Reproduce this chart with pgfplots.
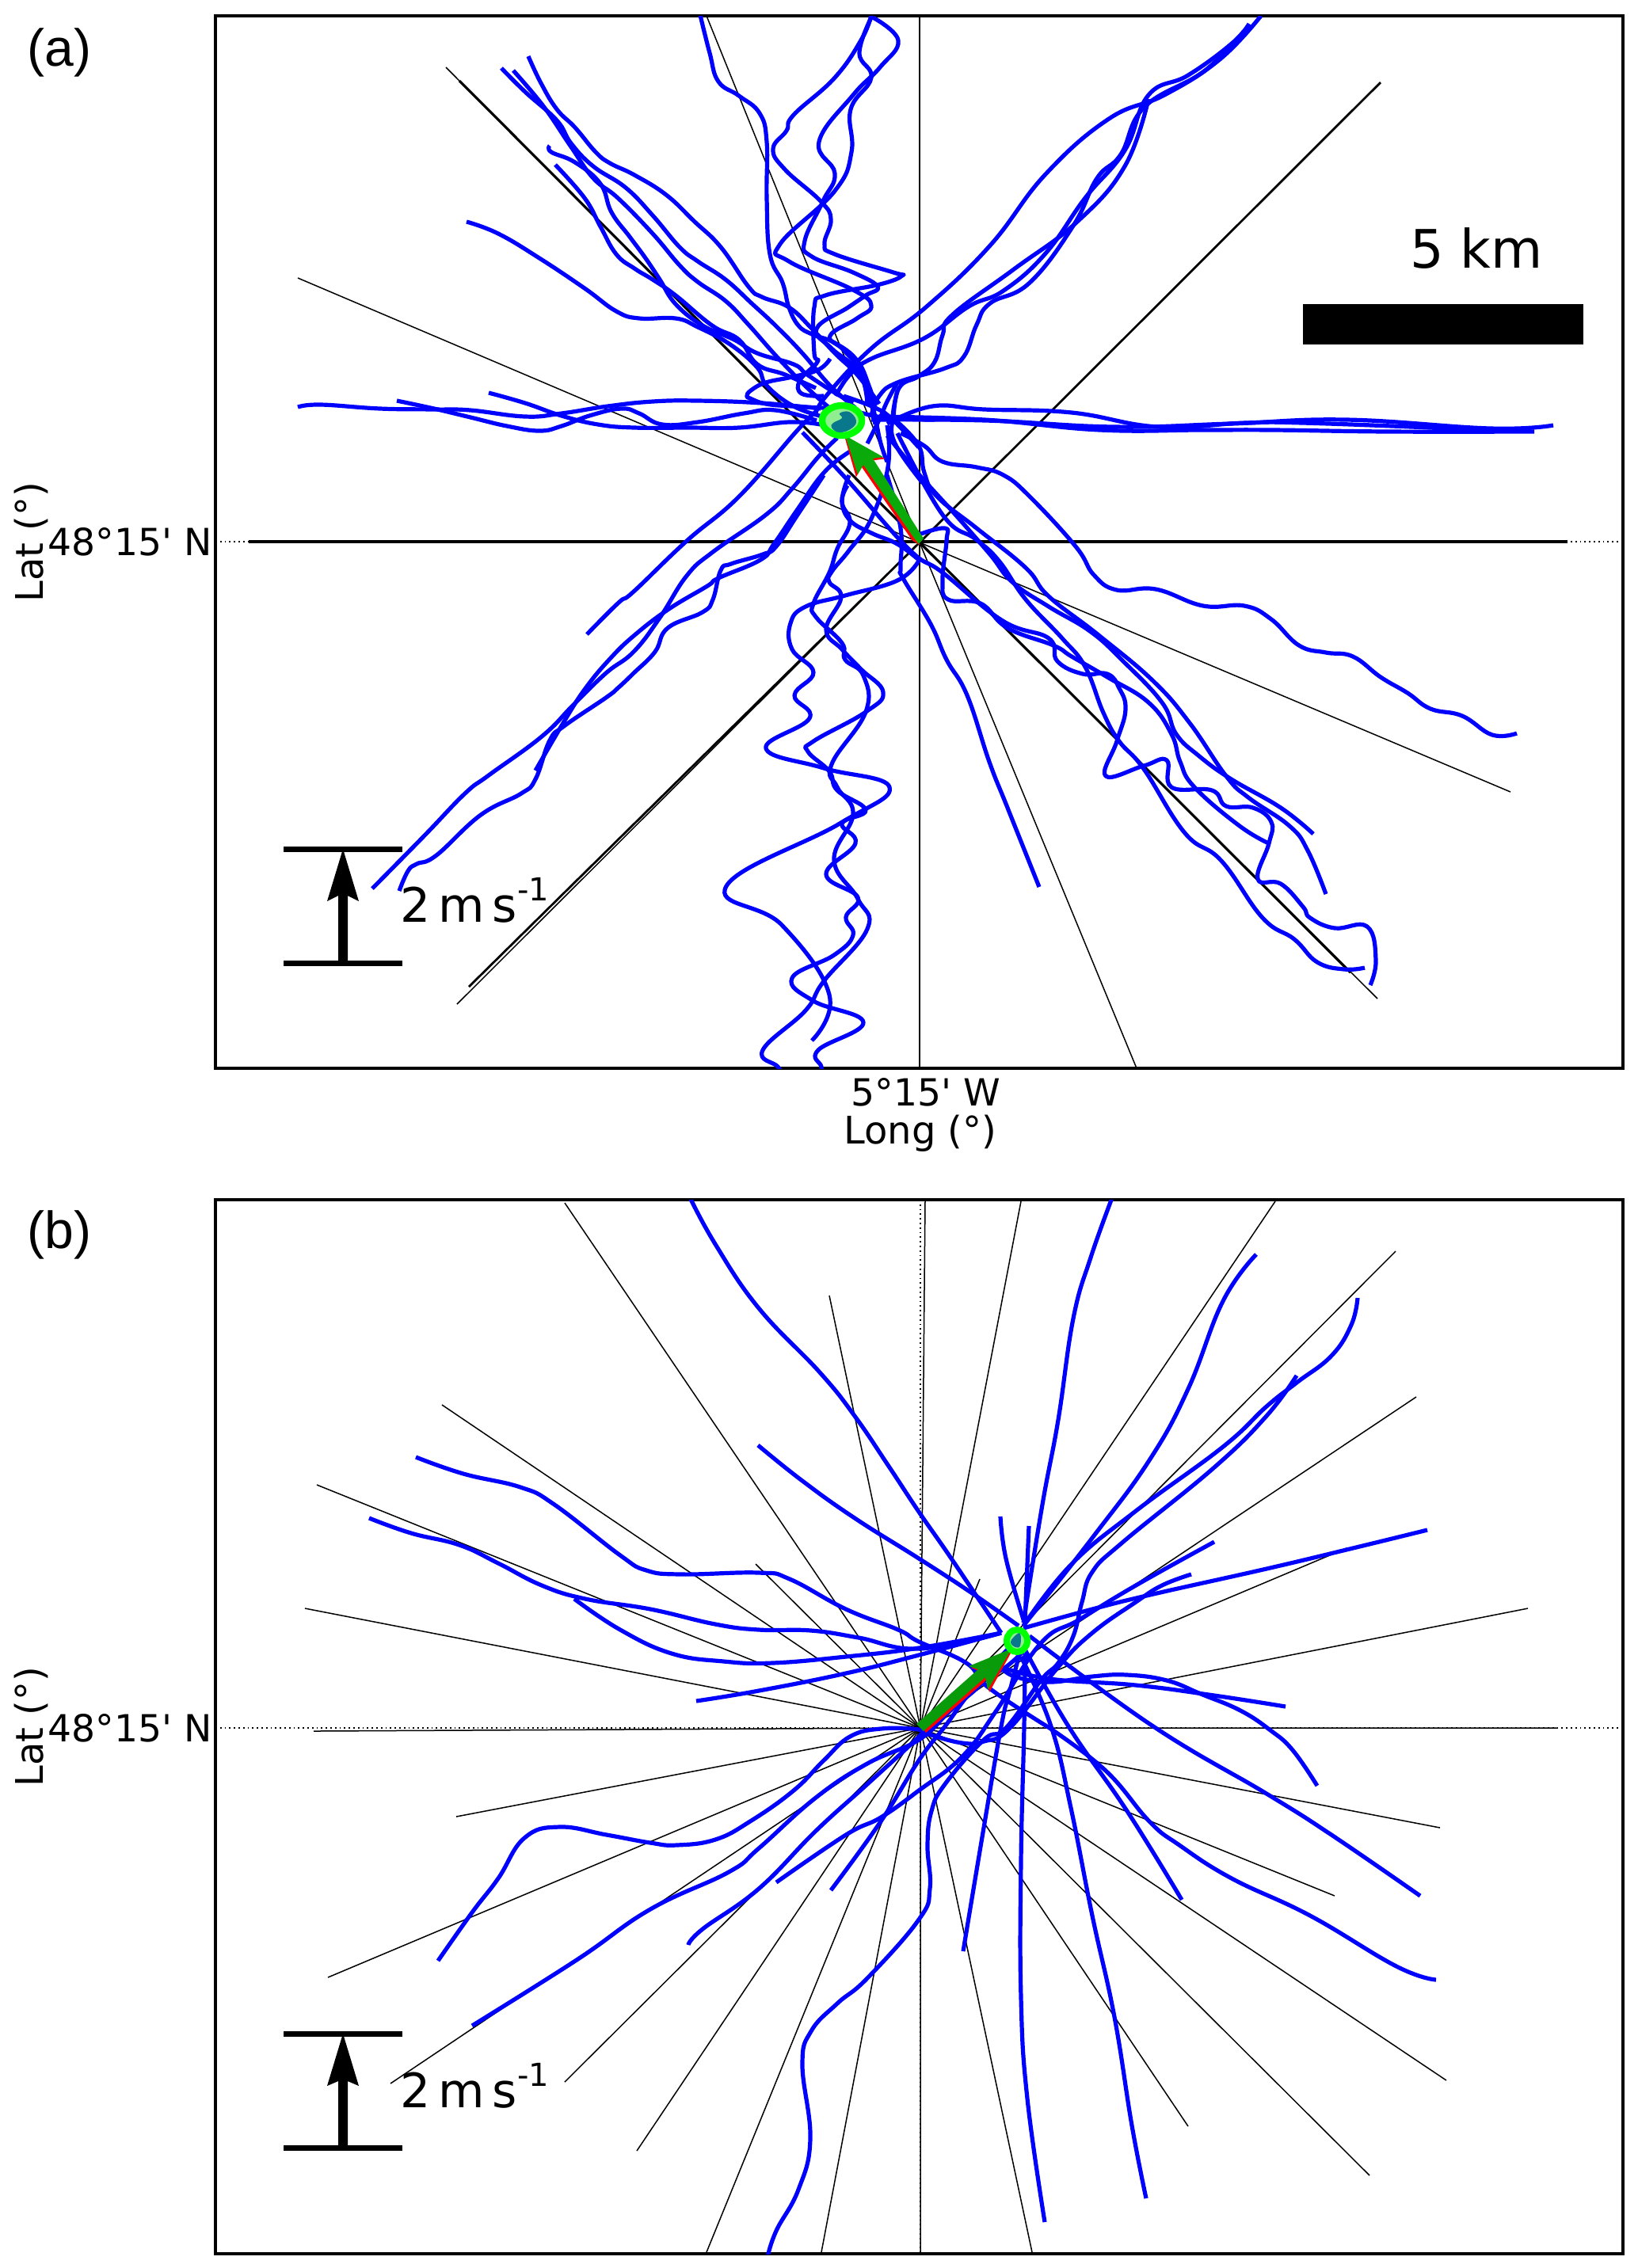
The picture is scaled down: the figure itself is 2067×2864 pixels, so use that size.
\documentclass[border=0pt]{standalone}
\usepackage{fontspec}
\usepackage{pgfplots}
\pgfplotsset{compat=1.18}
\newfontfamily\dv{DejaVu Sans}
\setmainfont{Liberation Sans}
\definecolor{ring}{RGB}{0,255,0}
\definecolor{arrowg}{RGB}{10,170,10}
\definecolor{arrowb}{RGB}{10,155,10}
\definecolor{tealc}{RGB}{10,120,140}
\definecolor{lightg}{RGB}{144,238,144}
\pgfplotsset{
  panel/.style={scale only axis,width=888.5pt,xmin=272,xmax=2049,y dir=reverse,
    axis line style={line width=1.75pt},major tick length=0pt,
    grid=major,grid style={black,line width=0.9pt,dotted},clip mode=individual,
    tick label style={font=\dv\fontsize{23.6}{25}\selectfont},
    yticklabel style={inner sep=0pt,xshift=-2pt},
    xticklabel style={inner sep=0pt,yshift=-6pt,xshift=4pt},
    every axis y label/.style={at={(axis description cs:-0.1306,0.5)},rotate=90,anchor=center,font=\dv\fontsize{24}{26}\selectfont},
    every axis x label/.style={at={(axis description cs:0.5008,-0.0617)},anchor=center,font=\dv\fontsize{24}{26}\selectfont},
    xlabel style={},ylabel={Lat (°)}},
  ray/.style={black,line width=0.75pt,no marks},
  trk/.style={blue,line width=2.6pt,no marks,smooth,tension=0.72,line join=round},
}
\begin{document}
\begin{tikzpicture}[x=0.5pt,y=-0.5pt]
\path (0,0) rectangle (2067,2864);
% ---------------- panel (a)
\begin{axis}[panel,at={(136pt,-10pt)},anchor=north west,height=664.5pt,ymin=20,ymax=1349,
  xtick={1161},xticklabels={5°15' W},ytick={684},yticklabels={48°15' N},xlabel={Long (°)}]
\addplot[ray,line width=1.6pt] coordinates {(314,684)(1979,684)};
\addplot[ray,line width=1.1pt] coordinates {(1161,20)(1161,1349)};
\addplot[ray] coordinates {(563,85)(1161,685)(1739,1261)};
\addplot[ray,line width=1.6pt] coordinates {(580,102)(1161,685)(1705,1228)};
\addplot[ray,line width=1.4pt] coordinates {(1743,104)(1161,685)(592,1246)};
\addplot[ray] coordinates {(1161,685)(577,1268)};
\addplot[ray] coordinates {(892,20)(1161,685)(1435,1349)};
\addplot[ray] coordinates {(376,351)(1161,685)(1907,1000)};
% NW
\addplot[trk] coordinates {(667,71)(683,105)(703,138)(726,161)(752,192)(770,206)(801,221)(841,246)(876,279)(910,312)(945,362)(962,375)(996,388)(1025,415)(1054,446)(1082,473)(1110,510)};
\addplot[trk] coordinates {(633,86)(663,116)(703,152)(721,181)(749,210)(790,237)(824,272)(858,312)(881,330)(916,353)(950,384)(979,411)(1013,446)(1048,487)(1080,515)};
\addplot[trk] coordinates {(648,89)(686,134)(720,184)(749,225)(780,250)(824,295)(858,335)(881,356)(916,380)(945,410)(985,455)(1030,500)(1060,525)};
\addplot[trk] coordinates {(694,184)(696,192)(726,205)(758,232)(772,268)(795,299)(815,326)(833,353)(853,384)(887,411)(927,429)(956,446)(1002,460)(1019,473)(1054,496)(1077,509)};
\addplot[trk] coordinates {(701,208)(738,250)(758,286)(778,321)(801,339)(824,353)(853,373)(899,411)(933,429)(956,460)(991,473)(1030,490)};
\addplot[trk] coordinates {(589,280)(629,295)(681,326)(738,364)(778,393)(807,402)(853,402)(881,413)(922,435)(956,464)(968,487)(1002,513)(1042,527)};
% W
\addplot[trk] coordinates {(376,514)(405,511)(480,516)(548,517)(594,518)(663,526)(709,522)(767,513)(824,507)(881,506)(962,509)(1036,516)};
\addplot[trk] coordinates {(501,506)(548,516)(594,527)(640,538)(681,544)(709,538)(744,525)(784,516)(807,522)(836,536)(881,533)(939,522)(979,518)(1031,531)};
\addplot[trk] coordinates {(617,496)(663,509)(709,525)(755,536)(801,540)(870,540)(933,540)(996,533)(1036,536)};
\addplot[trk] coordinates {(1048,453)(1033,467)(1000,476)(967,483)(948,493)(943,500)(947,503)(967,510)(1000,513)(1040,515)};
% N
\addplot[trk] coordinates {(884,19)(896,67)(907,103)(933,121)(959,143)(968,179)(968,250)(972,321)(988,357)(996,388)(1008,411)(1025,422)(1054,433)(1082,455)(1097,487)(1105,513)};
\addplot[trk] coordinates {(1100,19)(1088,49)(1054,98)(1002,145)(993,165)(976,188)(991,214)(1036,254)(1049,277)(1041,308)(1054,321)(1128,344)(1139,348)(1111,359)(1042,373)(1028,388)(1028,446)(1032,457)(1010,480)(1012,497)(1040,500)};
\addplot[trk] coordinates {(1102,22)(1134,51)(1111,85)(1077,120)(1034,179)(1054,219)(1039,254)(1016,304)(1025,324)(1077,344)(1108,362)(1093,373)(1071,388)(1031,415)(1050,440)(1085,470)(1095,510)};
\addplot[trk] coordinates {(1100,22)(1085,67)(1100,98)(1074,138)(1075,192)(1054,241)(985,308)(996,330)(1077,366)(1100,386)(1082,402)(1048,424)(1065,442)(1091,473)(1100,509)(1105,536)};
% NE
\addplot[trk] coordinates {(1592,20)(1540,75)(1470,120)(1400,150)(1320,220)(1250,310)(1170,387)(1100,440)(1043,500)(1030,523)};
\addplot[trk] coordinates {(1577,30)(1555,55)(1500,95)(1450,120)(1420,190)(1370,250)(1320,320)(1267,367)(1223,387)(1167,427)(1100,453)(1073,473)(1055,500)};
\addplot[trk] coordinates {(1570,40)(1520,90)(1445,135)(1415,195)(1385,225)(1355,285)(1300,357)(1250,383)(1233,410)(1217,450)(1193,465)(1133,483)(1110,500)(1100,525)};
\addplot[trk] coordinates {(1450,125)(1420,210)(1360,280)(1280,340)(1203,397)(1190,423)(1180,457)(1160,475)(1135,490)(1128,530)};
% centre cluster
\addplot[trk] coordinates {(1040,515)(1080,520)(1120,528)(1180,530)};
\addplot[trk] coordinates {(1133,483)(1120,507)(1110,530)(1095,560)};
\addplot[trk] coordinates {(1133,493)(1127,527)(1130,560)(1165,610)};
\addplot[trk] coordinates {(1097,490)(1105,527)(1112,560)(1120,583)};
\addplot[trk] coordinates {(1065,500)(1105,515)(1127,530)(1160,565)};
% E
\addplot[trk] coordinates {(1100,530)(1245,531)(1407,539)(1553,535)(1700,530)(1882,541)(1961,537)};
\addplot[trk] coordinates {(1100,526)(1243,530)(1389,543)(1517,543)(1608,543)(1754,545)(1937,545)};
\addplot[trk] coordinates {(1120,535)(1177,513)(1243,517)(1353,521)(1462,539)(1572,534)(1645,534)(1828,541)(1886,545)};
% SE
\addplot[trk] coordinates {(1137,547)(1167,563)(1190,583)(1233,590)(1267,600)(1300,627)(1358,690)(1381,726)(1410,745)(1459,744)(1519,765)(1571,765)(1605,782)(1640,815)(1674,824)(1708,829)(1743,855)(1777,875)(1806,895)(1846,904)(1884,928)(1915,926)};
\addplot[trk] coordinates {(1133,533)(1160,563)(1167,597)(1183,627)(1233,667)(1295,717)(1324,753)(1387,802)(1456,860)(1502,913)(1548,980)(1576,1007)(1628,1043)(1651,1074)(1674,1129)};
\addplot[trk] coordinates {(1120,550)(1167,607)(1200,643)(1249,699)(1278,735)(1324,766)(1376,797)(1416,833)(1467,887)(1485,927)(1513,954)(1553,983)(1617,1020)(1658,1053)};
\addplot[trk] coordinates {(1133,547)(1190,650)(1232,681)(1261,708)(1295,757)(1341,806)(1370,842)(1393,900)(1413,936)(1444,971)(1496,1052)(1542,1087)(1594,1159)(1634,1186)(1663,1215)(1697,1224)(1723,1222)};
\addplot[trk] coordinates {(1013,546)(1067,603)(1147,693)(1190,723)(1266,784)(1324,806)(1335,835)(1367,851)(1398,851)(1413,869)(1421,896)(1410,936)(1396,980)(1444,967)(1473,960)(1479,994)(1530,998)(1548,1018)(1582,1020)(1605,1038)(1602,1065)(1588,1110)(1617,1116)(1645,1145)(1654,1159)(1685,1172)(1726,1170)(1737,1212)(1730,1244)};
\addplot[trk] coordinates {(1160,675)(1193,667)(1195,683)(1190,733)(1197,757)(1238,762)(1272,793)(1330,815)(1353,829)(1398,855)(1450,887)(1479,927)(1490,962)(1508,994)(1565,1043)(1604,1066)};
\addplot[trk] coordinates {(1120,600)(1137,667)(1137,717)(1140,730)(1175,788)(1195,833)(1221,878)(1249,962)(1272,1020)(1312,1120)};
\addplot[trk] coordinates {(1070,613)(1063,633)(1073,657)(1100,673)(1133,687)(1160,707)};
% S
\addplot[trk] coordinates {(1120,537)(1121,590)(1100,655)(1072,695)(1050,722)(1047,735)(1062,754)(1043,795)(1063,820)(1087,845)(1115,874)(1093,899)(1027,936)(1020,949)(1047,974)(1057,998)(1093,1023)(1063,1040)(1080,1065)(1043,1104)(1083,1133)(1068,1158)(1077,1181)(1053,1206)(1000,1235)(1027,1264)(1090,1291)(1033,1326)(1037,1347)(1040,1360)};
\addplot[trk] coordinates {(1160,708)(1133,733)(1067,752)(1017,766)(998,787)(1000,820)(1027,849)(1003,878)(1022,907)(967,945)(1040,970)(1123,994)(1060,1040)(917,1119)(987,1168)(1047,1256)(1025,1314)};
\addplot[trk] coordinates {(1072,600)(1063,633)(1073,660)(1057,693)(1047,723)(1027,762)(1030,779)(1063,812)(1067,833)(1090,853)(1093,899)(1050,965)(1057,994)(1077,1028)(1053,1086)(1083,1135)(1095,1173)(1040,1239)(1017,1276)(963,1326)(982,1347)(990,1360)};
% SW
\addplot[trk] coordinates {(741,801)(781,761)(800,747)(867,683)(933,627)(1007,543)(1030,520)};
\addplot[trk] coordinates {(470,1122)(536,1055)(587,1002)(617,979)(684,930)(724,890)(765,850)(800,823)(833,780)(867,727)(900,697)(967,650)(1000,617)(1033,577)(1057,553)};
\addplot[trk] coordinates {(504,1125)(515,1100)(526,1091)(551,1080)(607,1029)(658,1002)(676,984)(694,935)(712,917)(765,881)(781,868)(800,850)(827,823)(843,793)(887,773)(900,757)(910,720)(923,712)(963,700)(980,690)(1007,650)(1040,600)};
\addplot[trk] coordinates {(676,973)(714,908)(740,868)(770,832)(800,803)(843,770)(893,740)(907,730)(960,707)(977,687)(1007,643)(1040,597)(1073,570)(1083,567)};
% mean drift arrow
\addplot[draw=red,line width=0.5pt,fill=red] coordinates {(1152,682)(1088,589)(1081,601)(1067,552)(1116,579)(1101,581)(1160,687)} -- cycle;
\addplot[draw=none,fill=arrowg] coordinates {(1153,678)(1160,687)(1166,680)(1102,579)(1115,577)(1067,550)(1083,599)(1090,587)} -- cycle;
\addplot[draw=ring,line width=4.2pt,fill=lightg,smooth cycle,no marks,tension=0.7] coordinates {(1088,531)(1081,544)(1063,550)(1045,544)(1038,531)(1045,518)(1063,512)(1081,518)};
\addplot[draw=none,fill=tealc,smooth cycle,no marks,tension=0.7] coordinates {(1081,531)(1075,541)(1060,546)(1050,540)(1052,534)(1063,528)(1060,522)(1072,520)};
% scales
\addplot[draw=none,fill=black] coordinates {(1645,384)(1999,384)(1999,435)(1645,435)} -- cycle;
\addplot[black,line width=3.5pt] coordinates {(358,1072)(508,1072)};
\addplot[black,line width=3.5pt] coordinates {(358,1216)(508,1216)};
\addplot[draw=none,fill=black] coordinates {(427,1216)(427,1131)(413,1138)(433,1072)(453,1138)(439,1131)(439,1216)} -- cycle;
\end{axis}
% ---------------- panel (b)
\begin{axis}[panel,at={(136pt,-757.5pt)},anchor=north west,height=665.5pt,ymin=1515,ymax=2846,
  xtick={1162},xticklabels={},ytick={2182},yticklabels={48°15' N}]
\addplot[ray] coordinates {(396,2186)(1162,2182)(1966,2182)};
\addplot[ray] coordinates {(1168,1517)(1162,2182)(1162,2846)};
\addplot[ray] coordinates {(713,1519)(1162,2182)(1729,2747)};
\addplot[ray] coordinates {(1047,1636)(1162,2182)(1303,2844)};
\addplot[ray] coordinates {(558,1774)(1162,2182)(1826,2627)};
\addplot[ray] coordinates {(400,1875)(1162,2182)(1685,2394)};
\addplot[ray] coordinates {(954,1975)(1162,2182)};
\addplot[ray] coordinates {(385,2031)(1162,2182)(1818,2308)};
\addplot[ray] coordinates {(1289,1517)(1162,2182)(1037,2844)};
\addplot[ray] coordinates {(1610,1517)(1162,2182)(892,2844)};
\addplot[ray] coordinates {(1762,1580)(1162,2182)(713,2629)};
\addplot[ray] coordinates {(1788,1764)(1162,2182)(493,2631)};
\addplot[ray] coordinates {(1237,1994)(1162,2182)(804,2716)};
\addplot[ray] coordinates {(1700,1955)(1162,2182)(414,2497)};
\addplot[ray] coordinates {(1929,2031)(1162,2182)(576,2294)};
\addplot[ray] coordinates {(1162,2182)(1500,2685)};
% blue
\addplot[trk] coordinates {(870,1510)(903,1571)(958,1652)(1035,1733)(1079,1788)(1123,1853)(1160,1909)(1201,1968)(1264,2062)};
\addplot[trk] coordinates {(957,1825)(1013,1870)(1079,1917)(1160,1968)(1226,2011)(1286,2053)};
\addplot[trk] coordinates {(525,1840)(585,1861)(657,1878)(700,1900)(783,1964)(816,1983)(860,1988)(958,1986)(997,1994)(1068,2032)(1134,2058)(1160,2073)(1220,2100)(1248,2131)(1325,2182)};
\addplot[trk] coordinates {(466,1917)(519,1936)(580,1951)(629,1974)(684,2002)(739,2019)(821,2032)(903,2051)(958,2058)(1024,2059)(1084,2068)(1160,2082)(1264,2062)};
\addplot[trk] coordinates {(725,2019)(783,2058)(848,2088)(914,2098)(975,2100)(1068,2092)(1160,2081)(1264,2062)};
\addplot[trk] coordinates {(879,2148)(958,2135)(1068,2113)(1160,2090)(1264,2062)};
\addplot[trk] coordinates {(1405,1510)(1377,1588)(1355,1665)(1336,1793)(1316,1900)(1292,2049)};
\addplot[trk] coordinates {(1586,1584)(1544,1643)(1500,1754)(1451,1844)(1379,1942)(1292,2053)};
\addplot[trk] coordinates {(1714,1639)(1706,1673)(1681,1712)(1637,1746)(1599,1776)(1544,1827)(1434,1908)(1352,1976)(1292,2053)};
\addplot[trk] coordinates {(1637,1737)(1599,1788)(1533,1853)(1418,1947)(1379,1985)(1366,2023)(1355,2066)(1336,2100)(1314,2122)(1270,2182)(1242,2197)(1193,2253)(1176,2287)(1171,2330)(1174,2385)(1160,2424)(1095,2498)(1057,2530)(1024,2565)(1013,2607)(1023,2701)(1008,2765)(980,2817)(969,2850)};
\addplot[trk] coordinates {(1263,1915)(1270,1968)(1292,2045)};
\addplot[trk] coordinates {(1299,1927)(1294,2049)};
\addplot[trk] coordinates {(1802,1932)(1708,1955)(1599,1981)(1456,2013)(1379,2032)(1292,2056)};
\addplot[trk] coordinates {(1533,1947)(1434,2002)(1363,2045)(1314,2075)(1258,2160)(1215,2218)(1160,2261)(1112,2295)(1068,2317)(980,2377)};
\addplot[trk] coordinates {(1049,2387)(1112,2300)(1160,2223)(1193,2180)(1231,2131)(1270,2105)(1292,2085)};
\addplot[trk] coordinates {(553,2476)(596,2415)(629,2372)(662,2321)(706,2307)(766,2317)(821,2327)(854,2330)(903,2323)(947,2300)(1002,2261)(1040,2223)(1073,2193)(1112,2183)(1160,2184)(1176,2191)(1215,2201)(1242,2199)(1275,2182)(1336,2105)(1379,2062)(1434,2023)(1467,2002)(1504,1988)};
\addplot[trk] coordinates {(596,2558)(728,2475)(821,2411)(920,2364)(958,2334)(1030,2270)(1095,2227)(1160,2197)(1200,2160)(1245,2120)(1292,2060)};
\addplot[trk] coordinates {(869,2456)(887,2436)(958,2385)(1030,2312)(1095,2253)(1160,2193)(1200,2150)(1260,2095)(1292,2060)};
\addplot[trk] coordinates {(1300,2066)(1456,2180)(1599,2265)(1681,2317)(1793,2394)};
\addplot[trk] coordinates {(1325,2182)(1396,2236)(1451,2300)(1489,2330)(1555,2372)(1654,2419)(1763,2483)(1813,2500)};
\addplot[trk] coordinates {(1264,2105)(1281,2117)(1325,2124)(1379,2117)(1423,2115)(1473,2122)(1516,2139)(1566,2160)(1604,2185)(1632,2210)(1663,2255)};
\addplot[trk] coordinates {(1264,2105)(1325,2120)(1434,2128)(1533,2141)(1623,2155)};
\addplot[trk] coordinates {(1292,2070)(1275,2135)(1264,2180)(1242,2308)(1216,2464)};
\addplot[trk] coordinates {(1294,2088)(1293,2180)(1289,2351)(1289,2522)(1297,2650)(1319,2806)};
\addplot[trk] coordinates {(1289,2092)(1327,2180)(1352,2283)(1379,2419)(1407,2547)(1429,2684)(1447,2776)};
\addplot[trk] coordinates {(1292,2079)(1349,2180)(1423,2287)(1492,2399)};
% arrow
\addplot[draw=none,fill=red] coordinates {(1166,2184)(1238,2111)(1226,2106)(1278,2084)(1249,2137)(1246,2121)(1169,2188)} -- cycle;
\addplot[draw=none,fill=arrowb] coordinates {(1157,2177)(1235,2108)(1223,2104)(1277,2082)(1247,2134)(1244,2118)(1166,2186)} -- cycle;
\addplot[draw=ring,line width=4pt,fill=lightg,smooth cycle,no marks,tension=0.7] coordinates {(1297,2072)(1293,2062)(1284,2058)(1275,2062)(1271,2072)(1275,2082)(1284,2086)(1293,2082)};
\addplot[draw=none,fill=tealc,smooth cycle,no marks,tension=0.7] coordinates {(1288,2063)(1288,2078)(1282,2080)(1276,2074)(1281,2066)};
% scale
\addplot[black,line width=3.5pt] coordinates {(358,2568)(508,2568)};
\addplot[black,line width=3.5pt] coordinates {(358,2712)(508,2712)};
\addplot[draw=none,fill=black] coordinates {(427,2712)(427,2628)(413,2634)(433,2568)(453,2634)(439,2628)(439,2712)} -- cycle;
\end{axis}
% ---------------- text
\node[font=\fontsize{33}{36}\selectfont] at (75,66) {(a)};
\node[font=\fontsize{33}{36}\selectfont] at (75,1559) {(b)};
\node[font=\dv\fontsize{33.5}{36}\selectfont] at (1864,314) {5 km};
\node[anchor=west,inner sep=0pt,font=\dv\fontsize{30}{32}\selectfont] at (505,1137) {2\,m\,s\raisebox{0.45em}{\fontsize{20}{22}\selectfont -1}};
\node[anchor=west,inner sep=0pt,font=\dv\fontsize{30}{32}\selectfont] at (505,2634) {2\,m\,s\raisebox{0.45em}{\fontsize{20}{22}\selectfont -1}};
\end{tikzpicture}
\end{document}
